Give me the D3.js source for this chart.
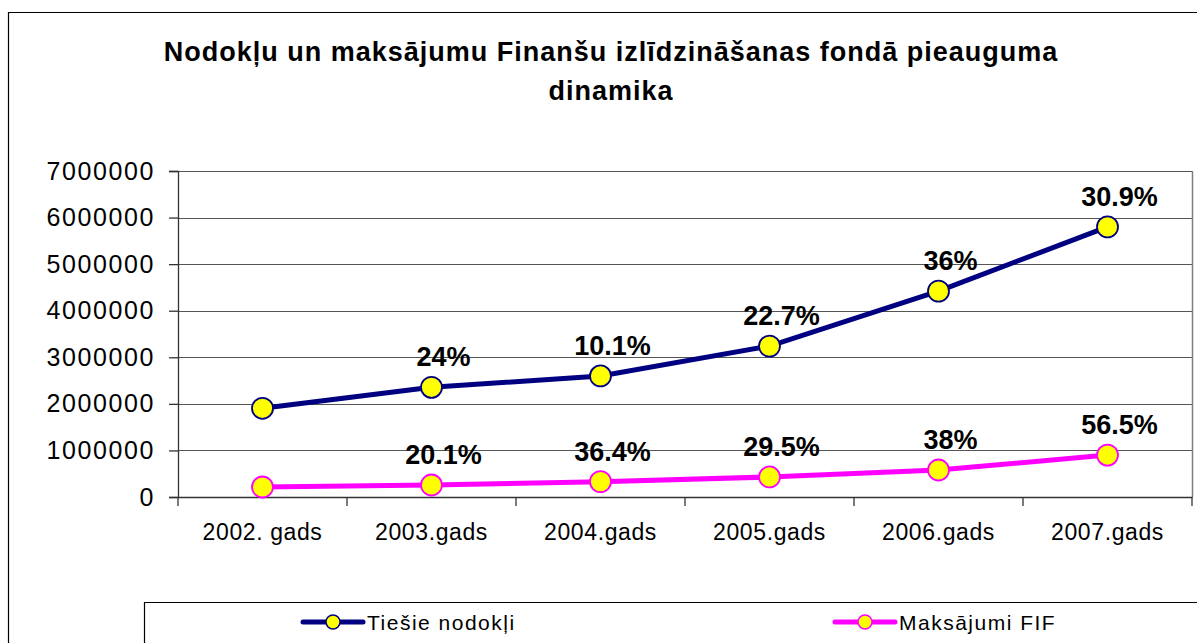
<!DOCTYPE html>
<html>
<head>
<meta charset="utf-8">
<script src="https://cdn.jsdelivr.net/npm/d3@7"></script>
<style>
  body { margin: 0; background: #fff; }
  text { font-family: "Liberation Sans", Arial, sans-serif; }
</style>
</head>
<body>
<div id="chart"></div>
<script>
// chart data
let years = ["2002. gads", "2003.gads", "2004.gads", "2005.gads", "2006.gads", "2007.gads"];
let taxValues = [1905000, 2355000, 2600000, 3240000, 4420000, 5800000];
let fifValues = [215000, 258000, 330000, 430000, 580000, 900000];
let taxLabels = ["", "24%", "10.1%", "22.7%", "36%", "30.9%"];
let fifLabels = ["", "20.1%", "36.4%", "29.5%", "38%", "56.5%"];
let yTicks = [0, 1000000, 2000000, 3000000, 4000000, 5000000, 6000000, 7000000];
let seriesNames = ["Tiešie nodokļi", "Maksājumi FIF"];

let svgWidth = 1197, svgHeight = 643;
let margin = { top: 171, left: 178, right: 5, bottom: 146 };
let width = svgWidth - margin.left - margin.right;
let height = svgHeight - margin.top - margin.bottom;

let svg = d3.select("#chart")
  .append("svg")
  .attr("width", svgWidth)
  .attr("height", svgHeight);

// outer frame (runs off the right and bottom edges)
svg.append("path")
  .attr("d", "M8.5,650 V12.5 H1210")
  .attr("fill", "none")
  .attr("stroke", "#000")
  .attr("stroke-width", 1.2);

// title
let title = svg.append("text")
  .attr("text-anchor", "middle")
  .attr("font-size", 27)
  .attr("font-weight", "bold")
  .attr("letter-spacing", 1);
title.append("tspan").attr("x", 611).attr("y", 61)
  .text("Nodokļu un maksājumu Finanšu izlīdzināšanas fondā pieauguma");
title.append("tspan").attr("x", 611).attr("y", 100).text("dinamika");

let chartGroup = svg.append("g")
  .attr("transform", `translate(${margin.left},${margin.top})`);

let x = d3.scaleBand().domain(years).range([0, width]);
let y = d3.scaleLinear().domain([0, 7000000]).range([height, 0]);

// gridlines
chartGroup.selectAll(".grid")
  .data(yTicks.slice(1))
  .enter()
  .append("line")
  .attr("x1", 0)
  .attr("x2", width)
  .attr("y1", d => Math.round(y(d)) + 0.5)
  .attr("y2", d => Math.round(y(d)) + 0.5)
  .attr("stroke", "#555")
  .attr("stroke-width", 1.2);

// right border of plot area
chartGroup.append("line")
  .attr("x1", width + 0.5).attr("x2", width + 0.5)
  .attr("y1", 0).attr("y2", height)
  .attr("stroke", "#808080")
  .attr("stroke-width", 1.5);

// y axis
let yAxis = chartGroup.append("g")
  .call(d3.axisLeft(y).tickValues(yTicks).tickFormat(d3.format("d")).tickSize(9).tickPadding(14));
yAxis.selectAll("text")
  .attr("font-size", 25)
  .attr("letter-spacing", 1.6)
  .attr("fill", "#000")
  .attr("font-family", "Liberation Sans, Arial, sans-serif");
yAxis.selectAll("line, path").attr("stroke", "#333").attr("stroke-width", 1.3);

// x axis with ticks between categories
let xAxis = chartGroup.append("g")
  .attr("transform", `translate(0,${height})`)
  .call(d3.axisBottom(x).tickSize(0).tickPadding(27));
xAxis.selectAll("text")
  .attr("font-size", 23)
  .attr("letter-spacing", 0.6)
  .attr("fill", "#000")
  .attr("font-family", "Liberation Sans, Arial, sans-serif");
xAxis.select(".domain").attr("stroke", "#333").attr("stroke-width", 1.3);
xAxis.selectAll(".sep")
  .data(d3.range(years.length + 1))
  .enter()
  .append("line")
  .attr("x1", i => i * x.bandwidth())
  .attr("x2", i => i * x.bandwidth())
  .attr("y1", 0)
  .attr("y2", 9)
  .attr("stroke", "#333")
  .attr("stroke-width", 1.3);

// series
let series = [
  { name: seriesNames[0], values: taxValues, labels: taxLabels, color: "#000080" },
  { name: seriesNames[1], values: fifValues, labels: fifLabels, color: "#FF00FF" }
];

let line = d3.line()
  .x((d, i) => x(years[i]) + x.bandwidth() / 2)
  .y(d => y(d));

series.forEach(s => {
  chartGroup.append("path")
    .datum(s.values)
    .attr("fill", "none")
    .attr("stroke", s.color)
    .attr("stroke-width", 5)
    .attr("d", line);

  chartGroup.selectAll(null)
    .data(s.values)
    .enter()
    .append("circle")
    .attr("cx", (d, i) => x(years[i]) + x.bandwidth() / 2)
    .attr("cy", d => y(d))
    .attr("r", 10.5)
    .attr("fill", "#FFFF00")
    .attr("stroke", s.color)
    .attr("stroke-width", 1.8);

  chartGroup.selectAll(null)
    .data(s.values)
    .enter()
    .append("text")
    .attr("x", (d, i) => x(years[i]) + x.bandwidth() / 2 + 12)
    .attr("y", d => y(d) - 21)
    .attr("text-anchor", "middle")
    .attr("font-size", 27)
    .attr("font-weight", "bold")
    .text((d, i) => s.labels[i]);
});

// legend
svg.append("path")
  .attr("d", "M144.5,650 V602.5 H1210")
  .attr("fill", "none")
  .attr("stroke", "#000")
  .attr("stroke-width", 1.2);

let legendX = [303, 835];
series.forEach((s, i) => {
  let g = svg.append("g").attr("transform", `translate(${legendX[i]},622)`);
  g.append("line")
    .attr("x1", 0).attr("x2", 60)
    .attr("stroke", s.color)
    .attr("stroke-width", 5)
    .attr("stroke-linecap", "round");
  g.append("circle")
    .attr("cx", 30).attr("r", 7)
    .attr("fill", "#FFFF00")
    .attr("stroke", s.color)
    .attr("stroke-width", 1.5);
  g.append("text")
    .attr("x", 64)
    .attr("y", 8)
    .attr("font-size", 21)
    .attr("letter-spacing", 1.5)
    .text(s.name);
});
</script>
</body>
</html>
